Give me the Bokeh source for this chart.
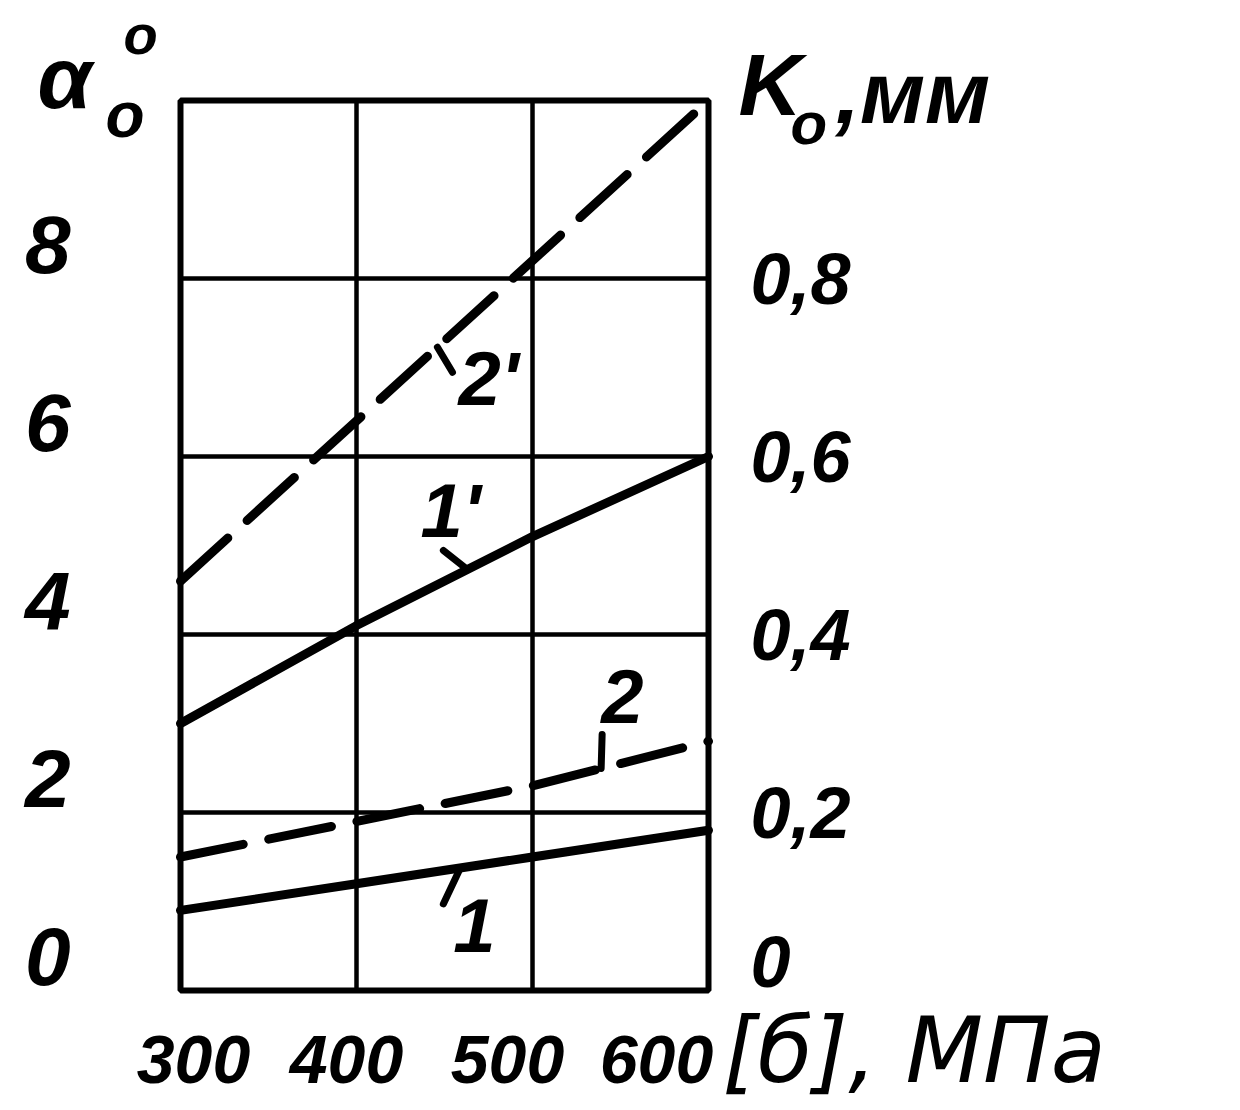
import numpy as np
from bokeh.plotting import figure
from bokeh.models import Range1d
from bokeh.core.properties import value
from bokeh.embed import file_html
from bokeh.resources import INLINE

# Allowable stress [σ], MPa
stress = [300, 400, 500, 600]

# Curves 1, 2 and 1', 2' on the α° scale (left axis)
curve_1 = [0.9, 1.2, 1.5, 1.8]
curve_2 = [1.5, 1.9, 2.3, 2.8]
curve_1p = [3.0, 4.1, 5.1, 6.0]
curve_2p = [4.6, 6.4, 8.2, 10.0]

# Tick values and their labels
x_ticks = [300, 400, 500, 600]
x_tick_labels = ["300", "400", "500", "600"]
alpha_ticks = [0, 2, 4, 6, 8]
alpha_tick_labels = ["0", "2", "4", "6", "8"]
k_ticks = [0.0, 0.2, 0.4, 0.6, 0.8]
k_tick_labels = ["0", "0,2", "0,4", "0,6", "0,8"]
alpha_grid = [0, 2, 4, 6, 8, 10]

X0, X1 = 300, 600        # stress span of the chart box
Y0, Y1 = 0, 10           # α span of the chart box
K_PER_ALPHA = 0.1        # K0 scale: 1.0 mm at the top of the box

FONT = value("Liberation Sans")
WIDE_FONT = value("DejaVu Sans")
STYLE = "bold italic"
INK = "black"

# page and chart-box geometry, pixels
W, H = 1240, 1110
BOX_L, BOX_T, BOX_W, BOX_H = 180, 100, 528, 890
PX_X = (X1 - X0) / BOX_W
PX_Y = (Y1 - Y0) / BOX_H

# the plotting frame spans the whole page so that captions outside
# the chart box can be drawn as ordinary text glyphs
x_range = Range1d(X0 - BOX_L * PX_X, X1 + (W - BOX_L - BOX_W) * PX_X)
y_range = Range1d(Y0 - (H - BOX_T - BOX_H) * PX_Y, Y1 + BOX_T * PX_Y)

p = figure(width=W, height=H, x_range=x_range, y_range=y_range,
           output_backend="svg", toolbar_location=None,
           min_border=0, min_border_left=0, min_border_right=0,
           min_border_top=0, min_border_bottom=0)
p.extra_y_ranges = {"k": Range1d(y_range.start * K_PER_ALPHA, y_range.end * K_PER_ALPHA)}
p.xaxis.visible = False
p.yaxis.visible = False
p.xgrid.visible = False
p.ygrid.visible = False
p.outline_line_color = None
p.background_fill_color = "white"
p.border_fill_color = "white"

# grid
p.multi_line(xs=[[x, x] for x in x_ticks], ys=[[Y0, Y1] for _ in x_ticks],
             line_color=INK, line_width=4.5)
p.multi_line(xs=[[X0, X1] for _ in alpha_grid], ys=[[y, y] for y in alpha_grid],
             line_color=INK, line_width=4.5)
# chart box
p.quad(left=[X0], right=[X1], bottom=[Y0], top=[Y1], fill_color=None,
       line_color=INK, line_width=6)

DASH = "64 26"
for series, dash in ((curve_1, "solid"), (curve_2, DASH),
                     (curve_1p, "solid"), (curve_2p, DASH)):
    p.line(stress, series, line_color=INK, line_width=9,
           line_dash=dash, line_cap="round", line_join="round")


def put_text(x, y, text, dx, dy, size, align="left", font=FONT, style=STYLE, **kw):
    """Text glyph(s) at data points, shifted by dx, dy pixels (dy > 0 is down)."""
    p.text(x=x, y=y, text=text, x_offset=dx, y_offset=dy,
           text_font=font, text_font_style=style, text_font_size=size,
           text_color=INK, text_align=align, text_baseline="middle", **kw)


# curve captions with short leader strokes:
# (series, caption, anchor x, leader dx/dy px, caption dx/dy px), dy > 0 is down
notes = [
    (curve_2p, "2'", 446, (15, 25), (21, 31)),
    (curve_1p, "1'", 463, (-24, -19), (-47, -59)),
    (curve_2, "2", 539, (1, -34), (0, -72)),
    (curve_1, "1", 459, (-17, 36), (-7, 58)),
]
for series, caption, ax, (ldx, ldy), (tdx, tdy) in notes:
    ay = float(np.interp(ax, stress, series))
    p.segment(x0=[ax], y0=[ay], x1=[ax + ldx * PX_X], y1=[ay - ldy * PX_Y],
              line_color=INK, line_width=7, line_cap="round")
    put_text([ax], [ay], [caption], tdx, tdy, "76px")

# left tick labels (α°)
put_text([X0] * len(alpha_ticks), alpha_ticks, alpha_tick_labels,
         -110, -34, "82px", align="right")

# right tick labels (K0, mm)
k_lift = [29, 0, 0, 0, 0]
put_text([X1] * len(k_ticks), k_ticks, k_tick_labels,
         42, [-v for v in k_lift], "72px", y_range_name="k")

# bottom tick labels and quantity ([σ], MPa)
x_shift = [13, -10, -25, -52]
put_text(x_ticks, [Y0] * len(x_ticks), x_tick_labels, x_shift, 69, "68px",
         align="center")
put_text([X1], [Y0], ["[б], МПа"], 14, 60, "90px", font=WIDE_FONT, style="italic")

# axis titles: α with degree and subscript o; K0, mm
put_text([X0], [Y1], ["α"], -143, -23, "88px")
put_text([X0], [Y1], ["o"], -57, -66, "56px")
put_text([X0], [Y1], ["o"], -75, 14, "64px")
put_text([X1], [Y1], ["K"], 30, -16, "88px")
put_text([X1], [Y1], ["o"], 82, 23, "60px")
put_text([X1], [Y1], [",мм"], 127, -8, "88px")

open("out.html", "w").write(file_html(p, INLINE))
